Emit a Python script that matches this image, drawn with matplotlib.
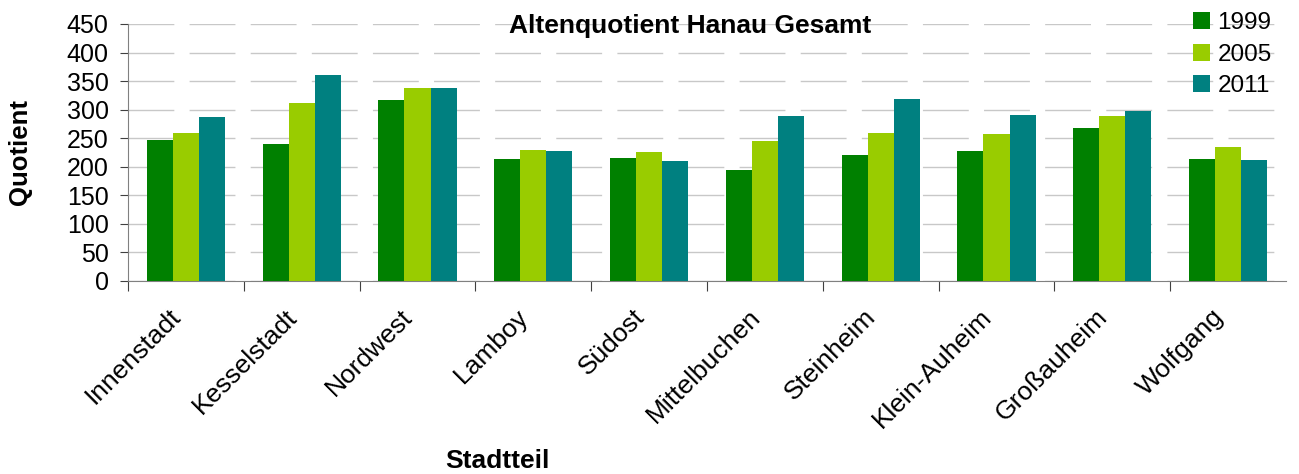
import matplotlib.pyplot as plt
import matplotlib.transforms as mtransforms
import numpy as np

plt.rcParams["font.family"] = ["Liberation Sans", "DejaVu Sans"]

stadtteile = ["Innenstadt", "Kesselstadt", "Nordwest", "Lamboy", "Südost",
              "Mittelbuchen", "Steinheim", "Klein-Auheim", "Großauheim", "Wolfgang"]
jahre = ["1999", "2005", "2011"]
werte_1999 = [247, 240, 317, 213, 215, 194, 220, 227, 268, 213]
werte_2005 = [259, 311, 338, 229, 226, 245, 259, 257, 289, 234]
werte_2011 = [287, 360, 338, 227, 210, 289, 318, 290, 297, 211]
farben = ["#008000", "#99cc00", "#008080"]


def main():

    fig = plt.figure(figsize=(12.99, 4.74), dpi=100)
    ax = fig.add_axes([128 / 1299, 1 - 281 / 474, (1286 - 128) / 1299, (281 - 24) / 474])

    x = np.arange(len(stadtteile))
    breite = 0.225
    serien = [werte_1999, werte_2005, werte_2011]

    for i, (jahr, werte) in enumerate(zip(jahre, serien)):
        ax.bar(x + (i - 1) * breite, werte, breite, color=farben[i], label=jahr, zorder=3)

    ax.set_xlim(-0.5, len(stadtteile) - 0.5)
    ax.set_ylim(0, 450)
    ax.set_yticks(np.arange(0, 451, 50))
    ax.yaxis.grid(True, color="#c8c8c8", linewidth=1.0, linestyle=(0, (33, 11)), zorder=0)

    ax.set_xticks(x - 0.5, minor=False)
    ax.set_xticks(x, minor=True)
    ax.set_xticklabels([])
    ax.set_xticklabels(stadtteile, minor=True, rotation=45, ha="right", va="top",
                       rotation_mode="anchor", fontsize=19)
    ax.tick_params(axis="x", which="minor", length=0, pad=17)
    ax.tick_params(axis="x", which="major", length=7, color="#404040")
    ax.tick_params(axis="y", labelsize=18, length=6, color="#404040", pad=8)

    versatz = mtransforms.ScaledTranslation(-17 / 100, 0, fig.dpi_scale_trans)
    for lab in ax.get_xticklabels(minor=True):
        lab.set_transform(lab.get_transform() + versatz)

    for s in ["top", "right"]:
        ax.spines[s].set_visible(False)
    ax.spines["left"].set_color("#808080")
    ax.spines["bottom"].set_color("#808080")

    fig.text(690 / 1299, 1 - 26 / 474, "Altenquotient Hanau Gesamt", ha="center", va="center",
             fontsize=19, fontweight="bold")
    fig.text(20 / 1299, 1 - 152 / 474, "Quotient", rotation=90, ha="center", va="center",
             fontsize=18.5, fontweight="bold")
    fig.text(497 / 1299, 1 - 461 / 474, "Stadtteil", ha="center", va="center",
             fontsize=19, fontweight="bold")

    fig.legend(loc="upper left", bbox_to_anchor=(1176 / 1299, 1 + 5 / 474), frameon=False,
               fontsize=17.5, handlelength=0.7, handleheight=0.7, handletextpad=0.3,
               labelspacing=0.4, borderpad=0.2)

    fig.savefig("out.png", dpi=100)


if __name__ == "__main__":
    main()
